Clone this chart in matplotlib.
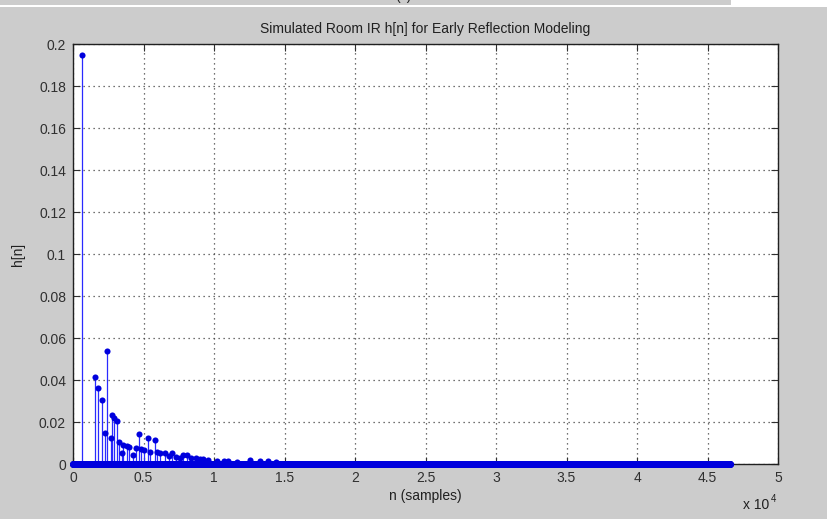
import numpy as np
import matplotlib
matplotlib.use("Agg")
import matplotlib.pyplot as plt
from matplotlib.patches import Rectangle

plt.rcParams['font.family'] = ['Liberation Sans', 'DejaVu Sans']

# length of the simulated impulse response (samples)
irLength = 46600

# early reflection taps: sample index and amplitude
tapIndex = [660, 1560, 1800, 2035, 2270, 2390, 2670, 2740, 2910, 3145,
            3285, 3450, 3570, 3810, 3995, 4230, 4450, 4680, 4800, 5035,
            5340, 5460, 5815, 5935, 6170, 6525, 6800, 7000, 7300, 7600,
            7825, 8060, 8400, 8700, 9010, 9240, 9600, 10200, 10700, 11000,
            11600, 12550, 13260, 13850, 14400]
tapValue = [0.195, 0.0413, 0.0360, 0.0305, 0.0146, 0.054, 0.0122, 0.0233, 0.0221, 0.0206,
            0.0106, 0.0051, 0.0090, 0.0086, 0.0082, 0.0043, 0.0075, 0.0143, 0.0070, 0.0067,
            0.0125, 0.0059, 0.0114, 0.0059, 0.0051, 0.0054, 0.0040, 0.0051, 0.0035, 0.0030,
            0.0043, 0.0043, 0.0030, 0.0028, 0.0024, 0.0024, 0.0020, 0.0015, 0.0012, 0.0012,
            0.0010, 0.0019, 0.0016, 0.0016, 0.0010]

xTicks = [0, 5000, 10000, 15000, 20000, 25000, 30000, 35000, 40000, 45000, 50000]
xTickLabels = ['0', '0.5', '1', '1.5', '2', '2.5', '3', '3.5', '4', '4.5', '5']
yTicks = [0, 0.02, 0.04, 0.06, 0.08, 0.1, 0.12, 0.14, 0.16, 0.18, 0.2]
yTickLabels = ['0', '0.02', '0.04', '0.06', '0.08', '0.1', '0.12', '0.14', '0.16', '0.18', '0.2']

def buildImpulseResponse(length, idx, val):
    h = np.zeros(length)
    h[np.array(idx)] = val
    return h

def main():
    h = buildImpulseResponse(irLength, tapIndex, tapValue)
    n = np.arange(irLength)

    figBg = '#cccccc'
    fig = plt.figure(figsize=(8.28, 5.19), dpi=100, facecolor=figBg)

    # strip left over from the window above
    fig.patches.append(Rectangle((0, 1 - 7 / 519), 1, 7 / 519, transform=fig.transFigure,
                                 facecolor='white', edgecolor='none', zorder=0))
    fig.patches.append(Rectangle((0, 1 - 5 / 519), 731 / 828, 5 / 519, transform=fig.transFigure,
                                 facecolor=figBg, edgecolor='none', zorder=0))
    fig.text(403 / 828, 1 + 4 / 519, '(c)', ha='center', va='center', fontsize=10, color='#222222')

    ax1 = fig.add_axes([73 / 828, 1 - 464 / 519, 705 / 828, 420 / 519])
    ax1.set_facecolor('white')

    nz = h != 0
    ax1.vlines(n[nz], 0, h[nz], color='#2a2aff', linewidth=0.9, zorder=3)
    ax1.plot(n, h, linestyle='none', marker='o', markersize=4.4, color='#0000dd',
             markeredgewidth=0, zorder=4, clip_on=False)

    ax1.set_xlim(0, 50000)
    ax1.set_ylim(0, 0.2)
    ax1.set_xticks(xTicks)
    ax1.set_xticklabels(xTickLabels)
    ax1.set_yticks(yTicks)
    ax1.set_yticklabels(yTickLabels)
    ax1.tick_params(axis='both', direction='in', length=5, width=0.8, top=True, right=True,
                    labelsize=10, colors='#303030')
    ax1.tick_params(axis='x', pad=5)
    ax1.tick_params(axis='y', pad=5)
    for axis in ['top', 'bottom', 'left', 'right']:
        ax1.spines[axis].set_linewidth(1.0)
        ax1.spines[axis].set_color('#202020')

    ax1.grid(True, color='#444444', linestyle=(0, (1, 3)), linewidth=0.9)
    ax1.set_axisbelow(True)

    ax1.set_title('Simulated Room IR h[n] for Early Reflection Modeling', fontsize=10,
                  color='#202020', pad=8)
    ax1.set_xlabel('n (samples)', fontsize=10, color='#202020', labelpad=3)
    ax1.set_ylabel('h[n]', fontsize=10, color='#202020', labelpad=10)

    # exponent for the x axis
    fig.text(743 / 828, 1 - 505 / 519, 'x 10', fontsize=10, color='#202020', va='center')
    fig.text(771 / 828, 1 - 499 / 519, '4', fontsize=7, color='#202020', va='center')

    fig.savefig('out.png', dpi=100, facecolor=figBg)

if __name__ == "__main__":
    main()
